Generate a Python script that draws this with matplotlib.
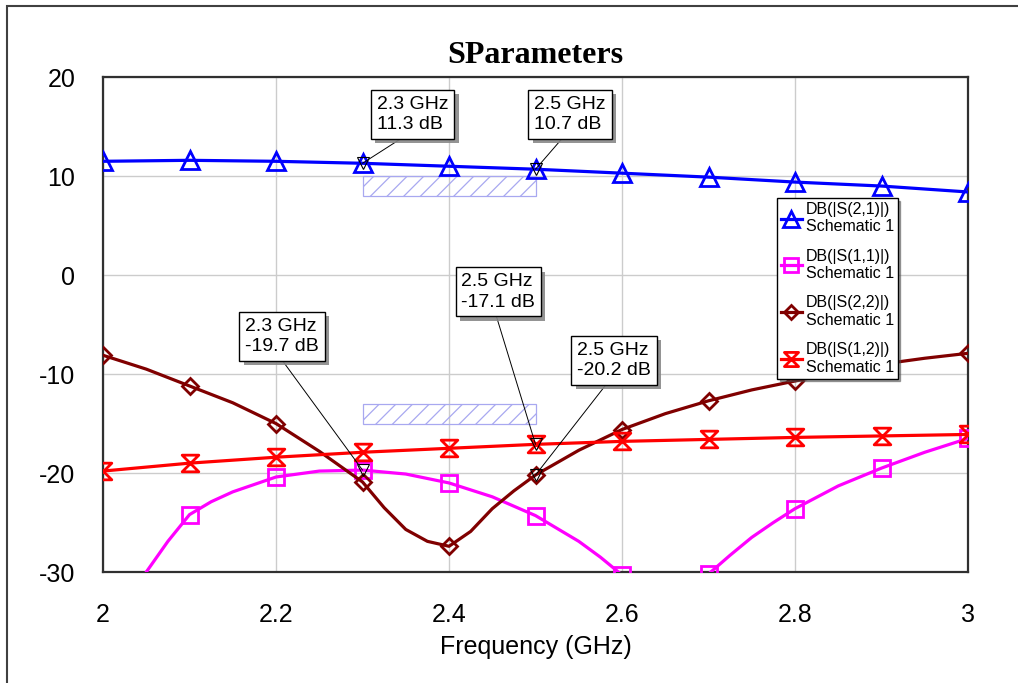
import matplotlib
matplotlib.use("Agg")
import matplotlib.pyplot as plt
import matplotlib.patheffects as pe
from matplotlib.patches import Rectangle
from matplotlib.path import Path

plt.rcParams["font.family"] = ["Liberation Sans", "DejaVu Sans"]
plt.rcParams["axes.unicode_minus"] = False
plt.rcParams["hatch.linewidth"] = 0.9

# sweep points (GHz)
freq_s21 = [2.0, 2.1, 2.2, 2.3, 2.4, 2.5, 2.6, 2.7, 2.8, 2.9, 3.0]
freq_s12 = [2.0, 2.1, 2.2, 2.3, 2.4, 2.5, 2.6, 2.7, 2.8, 2.9, 3.0]
freq_s11 = [2.0, 2.025, 2.05, 2.075, 2.1, 2.125, 2.15, 2.2, 2.25, 2.3, 2.35, 2.4, 2.45, 2.5,
            2.55, 2.575, 2.6, 2.625, 2.65, 2.675, 2.7, 2.725, 2.75, 2.775, 2.8, 2.85,
            2.9, 2.95, 3.0]
freq_s22 = [2.0, 2.05, 2.1, 2.15, 2.2, 2.25, 2.3, 2.325, 2.35, 2.375, 2.4, 2.425, 2.45,
            2.475, 2.5, 2.55, 2.6, 2.65, 2.7, 2.75, 2.8, 2.85, 2.9, 2.95, 3.0]

# magnitudes in dB
s21_db = [11.5, 11.6, 11.5, 11.3, 11.0, 10.7, 10.3, 9.9, 9.4, 9.0, 8.4]
s12_db = [-19.8, -19.0, -18.4, -17.9, -17.5, -17.1, -16.8, -16.6, -16.4, -16.25, -16.1]
s11_db = [-37.0, -33.5, -30.0, -26.9, -24.2, -22.9, -21.9, -20.4, -19.8, -19.7, -20.1,
          -21.0, -22.4, -24.3, -26.9, -28.5, -30.3, -31.5, -32.0, -31.5, -30.2, -28.3,
          -26.5, -25.0, -23.6, -21.3, -19.5, -17.9, -16.5]
s22_db = [-8.1, -9.5, -11.2, -12.9, -15.0, -17.8, -20.9, -23.5, -25.7, -26.9, -27.4,
          -25.9, -23.6, -21.8, -20.2, -17.7, -15.6, -14.0, -12.7, -11.6, -10.7, -9.8,
          -9.0, -8.4, -7.9]

# goal masks: (f_start, f_stop, low dB, high dB)
masks = [(2.3, 2.5, 8.0, 10.0), (2.3, 2.5, -15.0, -13.0)]

x_ticks = [2.0, 2.2, 2.4, 2.6, 2.8, 3.0]
x_tick_labels = ["2", "2.2", "2.4", "2.6", "2.8", "3"]
y_ticks = [-30, -20, -10, 0, 10, 20]


def every_100mhz(freqs):
    return [i for i, f in enumerate(freqs) if abs(round(f * 10) - f * 10) < 1e-6]


# hourglass marker used for S(1,2)
hourglass = Path([(-1, 1), (1, 1), (-1, -1), (1, -1), (-1, 1)],
                 [Path.MOVETO, Path.LINETO, Path.LINETO, Path.LINETO, Path.CLOSEPOLY])

fig = plt.figure(figsize=(10.18, 6.83), dpi=100)
ax = fig.add_axes([0.1012, 0.1625, 0.8497, 0.7245])

# outer border of the graph window
fig.patches.append(Rectangle((7 / 1018, -0.05), 1.2, 1.05 - 6 / 683, transform=fig.transFigure,
                             fill=False, edgecolor="#404040", linewidth=1.5))

for f0, f1, lo, hi in masks:
    ax.add_patch(Rectangle((f0, lo), f1 - f0, hi - lo, facecolor="none",
                           edgecolor="#a8a8f0", hatch="//", linewidth=0.9, zorder=1.5))

lw = 2.3
mew = 2.0
ax.plot(freq_s21, s21_db, color="#0000ff", lw=lw, marker="^", ms=13, mfc="none",
        mew=mew, label="DB(|S(2,1)|)\nSchematic 1", zorder=3)
ax.plot(freq_s11, s11_db, color="#ff00ff", lw=lw, marker="s", ms=12, mfc="none",
        mew=mew, markevery=every_100mhz(freq_s11), label="DB(|S(1,1)|)\nSchematic 1", zorder=3)
ax.plot(freq_s22, s22_db, color="#800000", lw=lw, marker="D", ms=8.5, mfc="none",
        mew=mew, markevery=every_100mhz(freq_s22), label="DB(|S(2,2)|)\nSchematic 1", zorder=3)
ax.plot(freq_s12, s12_db, color="#ff0000", lw=lw, marker=hourglass, ms=12, mfc="none",
        mew=mew, label="DB(|S(1,2)|)\nSchematic 1", zorder=3)

# marker readouts: (freq, value, text centre x, text centre y)
readouts = [
    (freq_s21[3], s21_db[3], 2.358, 16.2),
    (freq_s21[5], s21_db[5], 2.540, 16.2),
    (freq_s11[9], s11_db[9], 2.207, -6.2),
    (freq_s12[5], s12_db[5], 2.457, -1.7),
    (freq_s22[14], s22_db[14], 2.591, -8.6),
]
for f, v, tx, ty in readouts:
    ax.plot([f], [v], marker="v", ms=9, mfc="none", mec="black", mew=0.8, zorder=5)
    ann = ax.annotate("{0:g} GHz\n{1:.1f} dB".format(f, v), xy=(f, v), xytext=(tx, ty),
                      ha="center", va="center", multialignment="left",
                      fontsize=14, linespacing=1.25, zorder=6,
                      bbox=dict(boxstyle="square,pad=0.3", fc="white", ec="black", lw=1),
                      arrowprops=dict(arrowstyle="-", color="black", lw=0.7,
                                      relpos=(0.45, 0.0), shrinkA=0, shrinkB=0))
    ann.get_bbox_patch().set_path_effects([
        pe.SimplePatchShadow(offset=(3, -3), shadow_rgbFace="#888888", alpha=0.9),
        pe.Normal()])

ax.set_xlim(2.0, 3.0)
ax.set_ylim(-30, 20)
ax.set_xticks(x_ticks)
ax.set_xticklabels(x_tick_labels)
ax.set_yticks(y_ticks)
ax.tick_params(axis="both", length=0, labelsize=18)
ax.tick_params(axis="x", pad=22)
ax.tick_params(axis="y", pad=20)
ax.grid(True, color="#cccccc", linewidth=1.0)
ax.set_axisbelow(True)
for spine in ax.spines.values():
    spine.set_color("#303030")
    spine.set_linewidth(1.6)

ax.set_xlabel("Frequency (GHz)", fontsize=18, labelpad=6)
ax.set_title("SParameters", fontsize=23, fontweight="bold",
             family=["Liberation Serif", "DejaVu Serif"], pad=10)

leg = ax.legend(loc="upper left", bbox_to_anchor=(0.779, 0.756), fontsize=11.5,
                handlelength=1.3, handletextpad=0.25, borderpad=0.25, labelspacing=0.9,
                borderaxespad=0, numpoints=1, fancybox=False, framealpha=1,
                edgecolor="black", shadow=True, markerscale=0.85)
leg.get_frame().set_linewidth(1.0)
leg.set_zorder(7)
for txt in leg.get_texts():
    txt.set_multialignment("left")
    txt.set_linespacing(1.2)

fig.savefig("out.png", dpi=100)
